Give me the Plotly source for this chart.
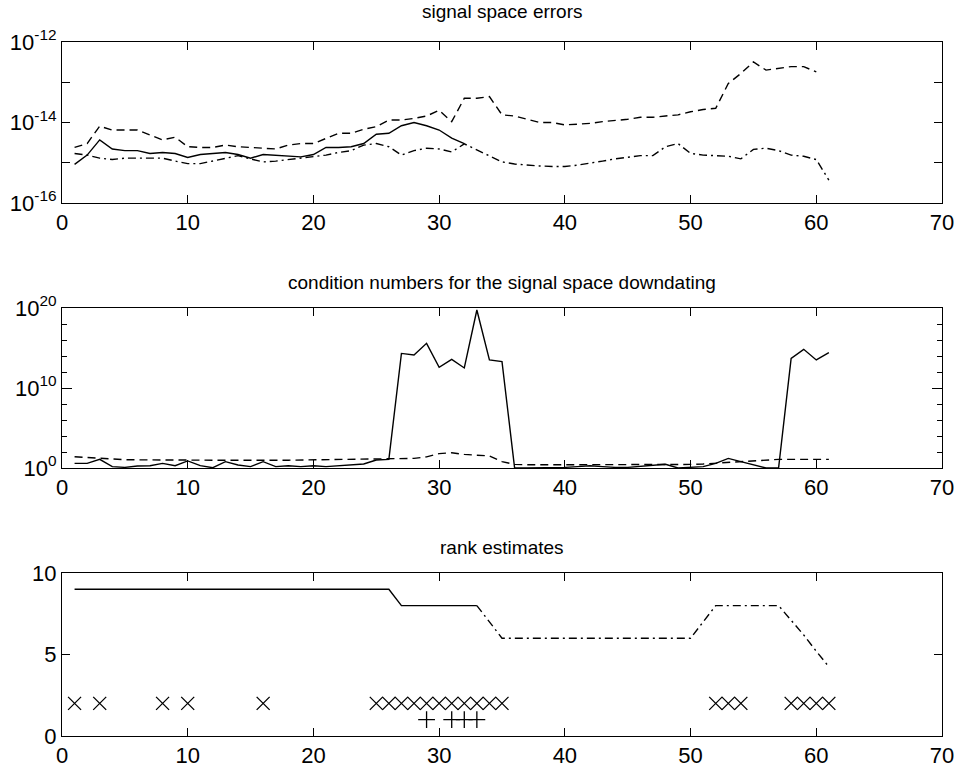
import plotly.graph_objects as go
from plotly.subplots import make_subplots

# ---------------- data ----------------
x_top_solid = list(range(1, 33))
err_solid = [9.1e-16, 1.55e-15, 3.7e-15, 2.2e-15, 2.0e-15, 2.0e-15, 1.7e-15, 1.8e-15, 1.7e-15, 1.35e-15,
             1.6e-15, 1.7e-15, 1.8e-15, 1.6e-15, 1.3e-15, 1.6e-15, 1.55e-15, 1.45e-15, 1.4e-15, 1.6e-15,
             2.4e-15, 2.4e-15, 2.5e-15, 3.0e-15, 5.1e-15, 5.4e-15, 8.3e-15, 1.0e-14, 8.3e-15, 6.5e-15,
             4.1e-15, 3.0e-15]

x_top_dash = list(range(1, 61))
err_dash = [2.4e-15, 3.0e-15, 8.1e-15, 6.5e-15, 6.5e-15, 6.5e-15, 4.9e-15, 3.7e-15, 4.3e-15, 2.5e-15,
            2.4e-15, 2.4e-15, 2.75e-15, 2.5e-15, 2.4e-15, 2.3e-15, 2.2e-15, 2.75e-15, 3.0e-15, 3.0e-15,
            4.1e-15, 5.4e-15, 5.4e-15, 6.8e-15, 7.9e-15, 1.15e-14, 1.15e-14, 1.26e-14, 1.45e-14, 2.0e-14,
            1.05e-14, 4.0e-14, 4.0e-14, 4.4e-14, 1.55e-14, 1.45e-14, 1.2e-14, 1.0e-14, 1.0e-14, 8.7e-15,
            9.1e-15, 9.5e-15, 1.05e-14, 1.1e-14, 1.2e-14, 1.35e-14, 1.35e-14, 1.45e-14, 1.55e-14, 1.85e-14,
            2.1e-14, 2.25e-14, 9.3e-14, 1.65e-13, 3.2e-13, 2.0e-13, 2.2e-13, 2.45e-13, 2.45e-13, 1.8e-13]

x_top_dashdot = list(range(1, 62))
err_dashdot = [1.7e-15, 1.55e-15, 1.3e-15, 1.2e-15, 1.3e-15, 1.3e-15, 1.25e-15, 1.3e-15, 1.1e-15, 9.5e-16,
               9.5e-16, 1.1e-15, 1.3e-15, 1.5e-15, 1.25e-15, 1.05e-15, 1.1e-15, 1.2e-15, 1.3e-15, 1.45e-15,
               1.55e-15, 1.8e-15, 2.0e-15, 2.75e-15, 3.0e-15, 2.5e-15, 1.55e-15, 2.0e-15, 2.3e-15, 2.2e-15,
               1.85e-15, 2.95e-15, 2.1e-15, 1.5e-15, 1.05e-15, 9.3e-16, 8.7e-16, 8.3e-16, 8.1e-16, 8.1e-16,
               8.7e-16, 1.0e-15, 1.1e-15, 1.25e-15, 1.35e-15, 1.5e-15, 1.5e-15, 2.5e-15, 3.0e-15, 1.7e-15,
               1.55e-15, 1.5e-15, 1.45e-15, 1.25e-15, 2.15e-15, 2.3e-15, 2.0e-15, 1.55e-15, 1.45e-15, 1.2e-15,
               3.7e-16]

x_cond = list(range(1, 62))
cond_solid = [3.8, 3.8, 12, 1.5, 1.2, 1.8, 1.95, 3.8, 1.95, 7.6,
              1.95, 1.1, 6.2, 2.4, 1.5, 6.2, 1.5, 1.95, 1.5, 1.95,
              1.5, 1.8, 2.4, 3.2, 10, 12, 2.1e14, 1.35e14, 3.8e15, 3.8e12,
              3.8e13, 3.2e12, 5.6e19, 3.2e13, 1.95e13, 1.1, 1.0, 1.0, 1.0, 1.2,
              1.5, 1.95, 1.5, 1.2, 1.2, 1.5, 1.95, 2.9, 1.0, 1.2,
              1.5, 3.8, 16, 6.2, 2.4, 1.0, 1.0, 5.0e13, 6.8e14, 3.2e13,
              2.6e14]
cond_dash = [25, 20, 16, 12.6, 11, 10.5, 10, 10, 9.5, 10,
             9.5, 9.5, 9.5, 10, 9.5, 9.5, 9.5, 9.5, 10, 10,
             10, 10, 10.5, 11, 11.5, 12, 12.6, 16, 25, 63,
             80, 50, 40, 32, 6.3, 2.8, 2.5, 2.5, 2.5, 2.5,
             2.6, 2.6, 2.6, 2.6, 2.7, 2.7, 2.7, 2.7, 2.8, 2.8,
             3.2, 4.0, 5.0, 6.3, 8.0, 11, 12, 12, 12, 12,
             12]

x_rank = list(range(1, 62))
rank = [9, 9, 9, 9, 9, 9, 9, 9, 9, 9,
        9, 9, 9, 9, 9, 9, 9, 9, 9, 9,
        9, 9, 9, 9, 9, 9, 8, 8, 8, 8,
        8, 8, 8, 7, 6, 6, 6, 6, 6, 6,
        6, 6, 6, 6, 6, 6, 6, 6, 6, 6,
        7, 8, 8, 8, 8, 8, 8, 7.1, 6.2, 5.2,
        4.25]
rank_split = 33  # solid up to x=33, dash-dot afterwards

x_cross = [1, 3, 8, 10, 16, 25, 26, 27, 28, 29, 30, 31, 32, 33, 34, 35, 52, 53, 54, 58, 59, 60, 61]
y_cross = [2] * len(x_cross)
x_plus = [29, 31, 32, 33]
y_plus = [1] * len(x_plus)

titles = ["signal space errors",
          "condition numbers for the signal space downdating",
          "rank estimates"]
x_ticks = [0, 10, 20, 30, 40, 50, 60, 70]

# ---------------- figure ----------------
fig = make_subplots(rows=3, cols=1)
LW = 1.4
DASH = "8px,5px"
DASHDOT = "8px,4px,2px,4px"

def line(x, y, dash, row):
    fig.add_trace(go.Scatter(x=x, y=y, mode="lines",
                             line=dict(color="black", width=LW, dash=dash),
                             showlegend=False, hoverinfo="skip"), row=row, col=1)

line(x_top_solid, err_solid, "solid", 1)
line(x_top_dash, err_dash, DASH, 1)
line(x_top_dashdot, err_dashdot, DASHDOT, 1)

line(x_cond, cond_solid, "solid", 2)
line(x_cond, cond_dash, DASH, 2)

i = x_rank.index(rank_split)
line(x_rank[:i + 1], rank[:i + 1], "solid", 3)
line(x_rank[i:], rank[i:], DASHDOT, 3)

fig.add_trace(go.Scatter(x=x_cross, y=y_cross, mode="markers",
                         marker=dict(symbol="x-thin-open", size=13, color="black",
                                     line=dict(color="black", width=1.3)),
                         showlegend=False, hoverinfo="skip"), row=3, col=1)
fig.add_trace(go.Scatter(x=x_plus, y=y_plus, mode="markers",
                         marker=dict(symbol="cross-thin-open", size=12, color="black",
                                     line=dict(color="black", width=1.3)),
                         showlegend=False, hoverinfo="skip"), row=3, col=1)

FONT = "Liberation Sans, Arial, Helvetica, sans-serif"
common = dict(showline=True, linecolor="black", linewidth=1, mirror="ticks",
              ticks="inside", ticklen=8, tickcolor="black", tickwidth=1,
              showgrid=False, zeroline=False, automargin=False,
              tickfont=dict(family=FONT, size=22, color="black"))

H = 768 - 42 - 32
domains = [[1 - 161 / H, 1.0], [1 - 426 / H, 1 - 266 / H], [0.0, 1 - 531 / H]]

for r in range(1, 4):
    fig.update_xaxes(range=[0, 70], tickvals=x_ticks, ticktext=[str(v) for v in x_ticks],
                     row=r, col=1, **common)

fig.update_yaxes(type="log", range=[-16, -12],
                 tickvals=[1e-16, 1e-14, 1e-12],
                 ticktext=["10<sup>-16</sup>", "10<sup>-14</sup>", "10<sup>-12</sup>"],
                 minor=dict(tickvals=[1e-15, 1e-13], ticks="inside", ticklen=8,
                            tickcolor="black", showgrid=False),
                 row=1, col=1, **common)
common2 = dict(common)
common2["ticklen"] = 10
fig.update_yaxes(type="log", range=[0, 20],
                 tickvals=[1, 1e10, 1e20],
                 ticktext=["10<sup>0</sup>", "10<sup>10</sup>", "10<sup>20</sup>"],
                 minor=dict(tickvals=[1e2, 1e4, 1e6, 1e8, 1e12, 1e14, 1e16, 1e18],
                            ticks="inside", ticklen=5, tickcolor="black", showgrid=False),
                 row=2, col=1, **common2)
fig.update_yaxes(range=[0, 10], tickvals=[0, 5, 10], ticktext=["0", "5", "10"],
                 row=3, col=1, **common)

fig.layout.yaxis.domain = domains[0]
fig.layout.yaxis2.domain = domains[1]
fig.layout.yaxis3.domain = domains[2]
for ax in ("xaxis", "xaxis2", "xaxis3"):
    fig.layout[ax].domain = [0, 1]

title_y = [1 + (42 - 12) / H, 1 - (282 - 42) / H, 1 - (547 - 42) / H]
for t, yy in zip(titles, title_y):
    fig.add_annotation(text=t, x=0.5, y=yy, xref="paper", yref="paper",
                       xanchor="center", yanchor="middle", showarrow=False,
                       font=dict(family=FONT, size=19, color="black"))

fig.update_layout(width=960, height=768,
                  margin=dict(l=62, r=18, t=42, b=32, autoexpand=False),
                  plot_bgcolor="white", paper_bgcolor="white",
                  showlegend=False)

fig.write_html("out.html")
